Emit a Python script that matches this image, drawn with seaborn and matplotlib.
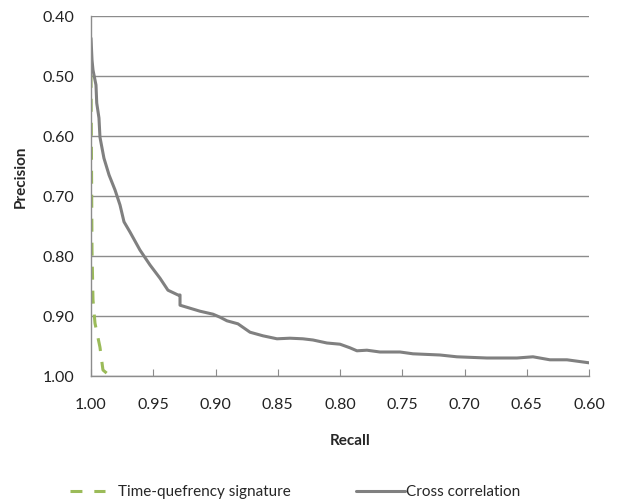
import matplotlib
matplotlib.use("Agg")
import matplotlib.pyplot as plt
import seaborn as sns
import pandas as pd
from matplotlib.lines import Line2D

sns.set_style("white")
plt.rcParams['font.family'] = ['Lato', 'DejaVu Sans']

# Cross correlation curve (recall, precision)
cc_recall = [1.000, 0.9992, 0.9984, 0.996, 0.9954, 0.9936, 0.9928, 0.9896, 0.9855, 0.9807,
             0.9767, 0.9735, 0.9687, 0.9607, 0.9526, 0.9446, 0.9382, 0.9301, 0.9285, 0.9285,
             0.9205, 0.9125, 0.902, 0.8964, 0.8908, 0.882, 0.8723, 0.8619, 0.8506, 0.8402,
             0.8298, 0.8217, 0.8105, 0.800, 0.792, 0.7864, 0.7784, 0.7679, 0.7518, 0.7414,
             0.7197, 0.7061, 0.682, 0.6579, 0.645, 0.6314, 0.6177, 0.600]
cc_precision = [0.437, 0.473, 0.490, 0.515, 0.545, 0.570, 0.602, 0.637, 0.665, 0.690,
                0.715, 0.743, 0.760, 0.790, 0.815, 0.837, 0.857, 0.865, 0.865, 0.882,
                0.887, 0.892, 0.897, 0.902, 0.908, 0.913, 0.927, 0.933, 0.938, 0.937,
                0.938, 0.940, 0.945, 0.947, 0.953, 0.958, 0.957, 0.960, 0.960, 0.963,
                0.965, 0.968, 0.970, 0.970, 0.968, 0.973, 0.973, 0.978]

# Time-quefrency signature curve
tq_recall = [1.000, 0.9992, 0.9984, 0.9968, 0.9928, 0.9904, 0.9847]
tq_precision = [0.498, 0.790, 0.873, 0.912, 0.952, 0.990, 1.000]

series_names = ["Time-quefrency signature", "Cross correlation"]
x_ticks = [1.00, 0.95, 0.90, 0.85, 0.80, 0.75, 0.70, 0.65, 0.60]
y_ticks = [0.40, 0.50, 0.60, 0.70, 0.80, 0.90, 1.00]

df = pd.concat([
    pd.DataFrame({"Recall": tq_recall, "Precision": tq_precision, "series": series_names[0]}),
    pd.DataFrame({"Recall": cc_recall, "Precision": cc_precision, "series": series_names[1]}),
])

fig = plt.figure(figsize=(6.26, 5.01), dpi=100)
ax = fig.add_axes([91/626, 1-376/501, (589-91)/626, (376-16)/501])

green = "#9BBB59"
gray = "#808080"
lw = 2.2
sns.lineplot(data=df, x="Recall", y="Precision", hue="series", style="series",
             palette={series_names[0]: green, series_names[1]: gray},
             dashes={series_names[0]: (4.25, 3.6), series_names[1]: ""},
             sort=False, estimator=None, linewidth=lw, ax=ax, legend=False)

ax.set_xlim(1.00, 0.60)
ax.set_ylim(1.00, 0.40)
ax.set_xticks(x_ticks)
ax.set_xticklabels([f"{v:.2f}" for v in x_ticks])
ax.set_yticks(y_ticks)
ax.set_yticklabels([f"{v:.2f}" for v in y_ticks])
ax.grid(axis="y", color="#8C8C8C", linewidth=1.0)
ax.grid(axis="x", visible=False)
for s in ["top", "right"]:
    ax.spines[s].set_visible(False)
for s in ["left", "bottom"]:
    ax.spines[s].set_color("#8C8C8C")
    ax.spines[s].set_linewidth(1.0)
ax.tick_params(axis="x", direction="in", length=5, color="#8C8C8C", labelsize=11.5,
               pad=16, bottom=True, labelcolor="#222222")
ax.tick_params(axis="y", length=0, labelsize=11.5, pad=12, labelcolor="#222222")
ax.set_xlabel("Recall", fontweight="bold", fontsize=11)
ax.set_ylabel("Precision", fontweight="bold", fontsize=11)
ax.xaxis.set_label_coords((350-91)/498, (376-434)/360)
ax.yaxis.set_label_coords((28-91)/498, (376-177)/360)

h1 = [Line2D([], [], color=green, lw=lw, dashes=(3.9, 3.9))]
h2 = [Line2D([], [], color=gray, lw=lw)]
leg1 = fig.legend(h1, [series_names[0]], loc="center left",
                  bbox_to_anchor=(70/626, 1-492/501), frameon=False, fontsize=11,
                  handlelength=2.3, handletextpad=0.85, borderpad=0, borderaxespad=0)
leg2 = fig.legend(h2, [series_names[1]], loc="center left",
                  bbox_to_anchor=(356/626, 1-492/501), frameon=False, fontsize=11,
                  handlelength=3.2, handletextpad=0.1, borderpad=0, borderaxespad=0)

fig.savefig("out.png", dpi=100)
